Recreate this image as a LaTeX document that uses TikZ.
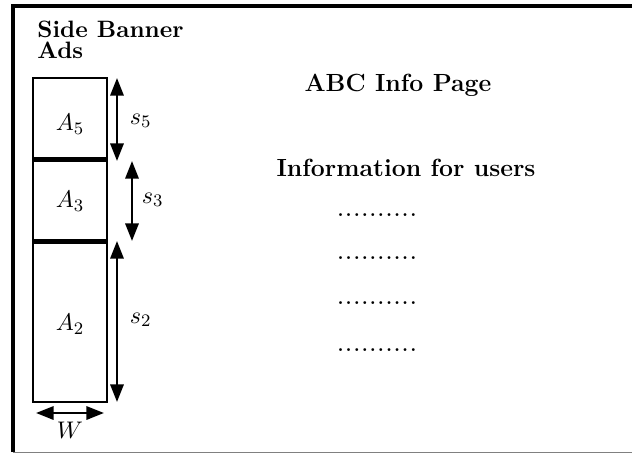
\documentclass[tikz,border=0pt]{standalone}
\usepackage{amsmath,amssymb}
\usetikzlibrary{positioning, arrows.meta}

\begin{document}
\begin{tikzpicture}[x=0.016cm, y=-0.016cm,
    every node/.style={font=\fontsize{11.3}{13.5}\selectfont\bfseries},
    dots/.style={font=\fontsize{13.5}{15}\selectfont},
    adbox/.style={draw, line width=1.3pt},
    dim/.style={line width=1.2pt, {Triangle[length=8pt,width=6pt]}-{Triangle[length=8pt,width=6pt]}}]
    \useasboundingbox (0,0) rectangle (632,454);

    % page frame
    \draw[line width=1.8pt] (13,452) -- (13,6) -- (640,6);
    \draw[gray, line width=0.5pt] (13,452.5) -- (640,452.5);

    % banner title
    \node (title) at (37,37) [anchor=base west, inner sep=0pt, font=\fontsize{10.8}{13}\selectfont\bfseries] {Side Banner};
    \node (title2) at (37,58) [anchor=base west, inner sep=0pt, font=\fontsize{10.8}{13}\selectfont\bfseries] {Ads};

    % ads
    \draw[adbox] (33,78) rectangle (107,158.5);
    \draw[adbox] (33,161) rectangle (107,240.5);
    \draw[adbox] (33,242.5) rectangle (107,402);
    \node (a5) at (70,124) {$A_5$};
    \node (a3) at (70,201) {$A_3$};
    \node (a2) at (70,324) {$A_2$};

    % slot heights
    \coordinate (s5t) at (117,78);
    \coordinate (s5b) at (117,161);
    \coordinate (s3t) at (132,161);
    \coordinate (s3b) at (132,241);
    \coordinate (s2t) at (117,241);
    \coordinate (s2b) at (117,402);
    \draw[dim] (s5t) -- (s5b);
    \draw[dim] (s3t) -- (s3b);
    \draw[dim] (s2t) -- (s2b);
    \node (s5) at (122,121) [anchor=west] {$s_5$};
    \node (s3) at (134,200) [anchor=west] {$s_3$};
    \node (s2) at (122,320) [anchor=west] {$s_2$};

    % width
    \coordinate (wl) at (36,413);
    \coordinate (wr) at (104,413);
    \draw[dim] (wl) -- (wr);
    \node (w) at (70,430) {$W$};

    % page content
    \node (head) at (398,85) {ABC Info Page};
    \node (info) at (406,168) {Information for users};
    \node (d1) at (377,215) [dots] {..........};
    \node (d2) at (377,258) [dots] {..........};
    \node (d3) at (377,303) [dots] {..........};
    \node (d4) at (377,350) [dots] {..........};
\end{tikzpicture}
\end{document}
